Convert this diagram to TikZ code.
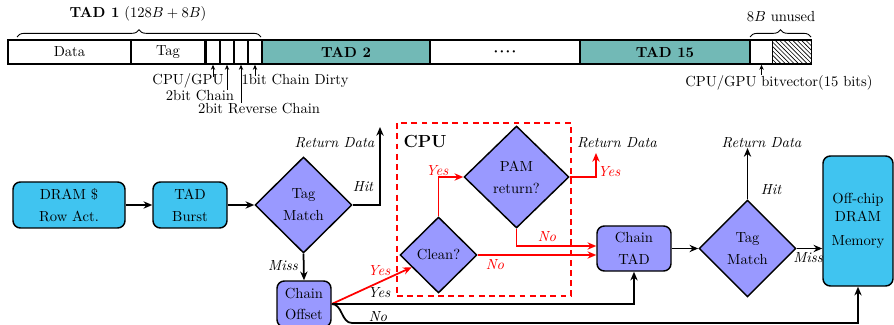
\documentclass[tikz,border=0pt]{standalone}
\usetikzlibrary{shapes.geometric,arrows.meta,decorations.pathreplacing,patterns,calc}
\definecolor{cyanfill}{RGB}{64,196,240}
\definecolor{lav}{RGB}{153,153,255}
\definecolor{tealfill}{RGB}{114,185,182}
\def\pxu{0.685pt}
\newcommand{\fourdots}{{\boldmath${\cdot}\mkern1.5mu{\cdot}\mkern1.5mu{\cdot}\mkern1.5mu{\cdot}$}}
\begin{document}
\begin{tikzpicture}[x=0.685pt,y=-0.685pt,
  barbox/.style={draw, line width=1pt, minimum height=24*\pxu, inner sep=0pt},
  rbox/.style={draw, line width=1pt, rounded corners=5pt, align=center, inner sep=0pt},
  dia/.style={draw, line width=1pt, diamond, fill=lav, align=center, inner sep=0pt, aspect=1},
  conn/.style={line width=1.2pt, -{Stealth[length=6pt,width=5pt]}},
  rconn/.style={conn, red},
  ptr/.style={line width=0.6pt, -{Stealth[length=3.5pt,width=3pt]}},
  lbl/.style={inner sep=0pt, font=\itshape},
  rlbl/.style={lbl, text=red},
  brc/.style={decorate, decoration={brace, amplitude=5pt}, line width=0.6pt}]
\useasboundingbox (0,0) rectangle (894,325);
\clip (0,0) rectangle (894,325);

% ---- top bar ----
\node[barbox, minimum width=123*\pxu] (data) at (69.5,52) {Data};
\node[barbox, minimum width=74*\pxu] (tag) at (168,52) {Tag};
\node[barbox, minimum width=14*\pxu] (b1) at (213,52) {};
\node[barbox, minimum width=14*\pxu] (b2) at (227,52) {};
\node[barbox, minimum width=14*\pxu] (b3) at (241,52) {};
\node[barbox, minimum width=14*\pxu] (b4) at (255,52) {};
\node[barbox, minimum width=168*\pxu, fill=tealfill, font=\bfseries] (tad2) at (346,52) {TAD 2};
\node[barbox, minimum width=150*\pxu] (ellip) at (505,52) {\fourdots};
\node[barbox, minimum width=170*\pxu, fill=tealfill, font=\bfseries] (tad15) at (665,52) {TAD 15};
\node[barbox, minimum width=22*\pxu] (bv) at (761.5,52) {};
\node[barbox, minimum width=39*\pxu, pattern=north west lines] (unused) at (792,52) {};

\draw[brc] (17,37) -- (261,37);
\node (tad1lbl) at (138,14) {\textbf{TAD 1} $(128B+8B)$};
\draw[brc] (750,37) -- (811,37);
\node (unusedlbl) at (781,17) {$8B$ unused};

\node[inner sep=0pt] (l1) at (188,81) {CPU/GPU};
\node[inner sep=0pt] (l2) at (200,96) {2bit Chain};
\node[inner sep=0pt] (l3) at (259,109) {2bit Reverse Chain};
\node[inner sep=0pt] (l4) at (295,81) {1bit Chain Dirty};
\node[inner sep=0pt] (l5) at (779,83) {CPU/GPU bitvector(15 bits)};
\draw[ptr] (b1.south) ++(0,12) -- (b1.south);
\draw[ptr] (b2.south) ++(0,25) -- (b2.south);
\draw[ptr] (b3.south) ++(0,38) -- (b3.south);
\draw[ptr] (b4.south) ++(0,11) -- (b4.south);
\draw[ptr] (bv.south) ++(0,10) -- (bv.south);

% ---- flow chart ----
\node[draw=red, dashed, line width=1pt, dash pattern=on 4pt off 3pt, minimum width=174*\pxu, minimum height=173*\pxu, inner sep=0pt] (cpu) at (484,209.5) {};
\node[font=\large\bfseries, inner sep=0pt] (cpulbl) at (425,141) {CPU};

\node[rbox, fill=cyanfill, minimum width=112*\pxu, minimum height=46*\pxu] (dram) at (69,205) {DRAM \$\\[3pt]Row Act.};
\node[rbox, fill=cyanfill, minimum width=74*\pxu, minimum height=46*\pxu] (burst) at (190,205) {TAD\\[3pt]Burst};
\node[dia, minimum width=97*\pxu, minimum height=96*\pxu] (tm1) at (303.5,205) {Tag\\[3pt]Match};
\node[rbox, fill=lav, minimum width=54*\pxu, minimum height=46*\pxu] (co) at (304,304) {Chain\\[3pt]Offset};
\node[dia, minimum width=77*\pxu, minimum height=76*\pxu] (clean) at (438.5,255) {Clean?};
\node[dia, minimum width=105*\pxu, minimum height=102*\pxu] (pam) at (516.5,177) {PAM\\[3pt]return?};
\node[rbox, fill=lav, minimum width=74*\pxu, minimum height=45*\pxu] (tad) at (634,248.5) {Chain\\[3pt]TAD};
\node[dia, minimum width=97*\pxu, minimum height=97*\pxu] (tm2) at (747.5,248.5) {Tag\\[3pt]Match};
\node[rbox, fill=cyanfill, minimum width=70*\pxu, minimum height=130*\pxu] (mem) at (858,221) {Off-chip\\DRAM\\[5pt]Memory};

\coordinate (ret1) at (380,127);
\coordinate (ret2) at (596,153);
\coordinate (ret3) at (747.5,148);
\coordinate (cb) at (352,323);

\draw[conn] (dram) -- (burst);
\draw[conn] (burst) -- (tm1);
\draw[conn] (tm1.east) -| (ret1);
\draw[conn] (tm1.south) -- (co.north);
\draw[rconn] (co.east) -- (clean);
\draw[rconn] (clean.north) |- (pam.west);
\draw[rconn] (clean.east) -- (clean.east -| tad.west);
\draw[rconn] (pam.south) |- ($(tad.west)+(0,-2.5)$);
\draw[rconn] (pam.east) -| (ret2);
\draw[conn] (tad) -- (tm2);
\draw[conn] (tm2.north) -- (ret3);
\draw[conn] (tm2.east) -- (tm2.east -| mem.west);
\draw[conn] (co.east) -| (tad.south);
\draw[conn] (co.east) to[out=0,in=180] (cb) -| (mem.south);

% labels
\node[lbl] (rd1) at (334.5,143) {Return Data};
\node[lbl] (hit1) at (363,187) {Hit};
\node[lbl] (miss1) at (283,266) {Miss};
\node[rlbl] (yes1) at (379,271) {Yes};
\node[lbl] (yes2) at (379,293) {Yes};
\node[lbl] (no1) at (378,317) {No};
\node[rlbl] (yes3) at (437,171) {Yes};
\node[rlbl] (no2) at (547,237) {No};
\node[rlbl] (no3) at (495,265) {No};
\node[rlbl] (yes4) at (609,172) {Yes};
\node[lbl] (rd2) at (617,143) {Return Data};
\node[lbl] (rd3) at (761.5,143) {Return Data};
\node[lbl] (hit2) at (771,190) {Hit};
\node[lbl] (miss2) at (808,258) {Miss};
\end{tikzpicture}
\end{document}
